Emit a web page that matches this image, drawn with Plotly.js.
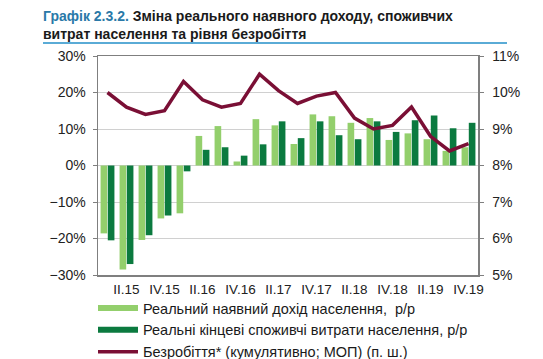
<!DOCTYPE html>
<html><head><meta charset="utf-8">
<script src="https://cdn.plot.ly/plotly-3.0.1.min.js"></script>
<style>html,body{margin:0;padding:0;background:#fff;}</style>
</head><body><div id="chart" style="width:543px;height:359px;"></div>
<script>
const quarters = ["I.15","II.15","III.15","IV.15","I.16","II.16","III.16","IV.16","I.17","II.17","III.17","IV.17","I.18","II.18","III.18","IV.18","I.19","II.19","III.19","IV.19"];
const tickLabels = ["II.15","IV.15","II.16","IV.16","II.17","IV.17","II.18","IV.18","II.19","IV.19"];
const income = [-18.6,-28.5,-20.4,-14.5,-13.1,8.1,10.8,1.1,12.7,11.0,5.9,14.0,13.5,11.7,13.0,7.0,8.8,7.2,4.0,5.0];
const consumption = [-20.5,-27.0,-19.1,-13.7,-1.6,4.3,5.0,2.7,5.8,12.1,7.5,12.1,8.3,7.2,12.1,9.2,12.4,13.7,10.2,11.7];
const unemployment = [10.0,9.6,9.4,9.5,10.3,9.8,9.6,9.7,10.5,10.05,9.7,9.9,10.0,9.3,9.0,9.1,9.6,8.8,8.4,8.6];
const names = ["Реальний наявний дохід населення,  р/р","Реальні кінцеві споживчі витрати населення, р/р","Безробіття* (кумулятивно; МОП) (п. ш.)"];
const cLight = "#93cf6c", cDark = "#0b7a3f", cLine = "#7a0f35";

const traces = [
  {type:"bar", x:quarters, y:income, marker:{color:cLight}, showlegend:false, name:names[0]},
  {type:"bar", x:quarters, y:consumption, marker:{color:cDark}, showlegend:false, name:names[1]},
  {type:"scatter", mode:"lines", x:quarters, y:unemployment, yaxis:"y2", line:{color:cLine, width:3.5}, showlegend:false, name:names[2]},
  {type:"scatter", mode:"lines", x:[null], y:[null], line:{color:cLight, width:6}, name:names[0]},
  {type:"scatter", mode:"lines", x:[null], y:[null], line:{color:cDark, width:6}, name:names[1]},
  {type:"scatter", mode:"lines", x:[null], y:[null], line:{color:cLine, width:3.5}, name:names[2]}
];

const layout = {
  width:543, height:359,
  margin:{l:98, r:65, t:56, b:84, autoexpand:false},
  paper_bgcolor:"#fff", plot_bgcolor:"#fff",
  font:{family:"Liberation Sans, Arial, sans-serif", size:14, color:"#222"},
  title:{text:"<b><span style='color:#2a79a8'>Графік 2.3.2.</span> Зміна реального наявного доходу, споживчих<br>витрат населення та рівня безробіття</b>",
    x:43/543, xanchor:"left", xref:"container", y:1-21/359, yref:"container", yanchor:"top",
    font:{size:14, color:"#1a1a1a"}},
  barmode:"group", bargap:0.24, bargroupgap:0.08,
  xaxis:{type:"category", tickmode:"array", tickvals:tickLabels, ticktext:tickLabels,
    showline:true, linecolor:"#7f7f7f", linewidth:1.5, mirror:true, ticks:"", showgrid:false,
    tickfont:{size:13.5}, ticklabelstandoff:1, fixedrange:true},
  yaxis:{range:[-30,30], dtick:10, ticksuffix:"%", showgrid:true, gridcolor:"#d0d0d0", gridwidth:1,
    zeroline:false, showline:true, linecolor:"#7f7f7f", linewidth:1.5, ticks:"outside", ticklen:4, tickcolor:"#7f7f7f",
    tickfont:{size:14}, ticklabelstandoff:4},
  yaxis2:{range:[5,11], dtick:1, ticksuffix:"%", overlaying:"y", side:"right", showgrid:false, zeroline:false,
    showline:true, linecolor:"#7f7f7f", linewidth:1.5, ticks:"outside", ticklen:4, tickcolor:"#7f7f7f",
    tickfont:{size:14}, ticklabelstandoff:6},
  showlegend:true,
  legend:{orientation:"v", x:(93-98)/380, xanchor:"left", y:-(292-275)/219, yanchor:"top",
    font:{size:14.5, color:"#1a1a1a"}, itemwidth:40, tracegroupgap:0, bgcolor:"rgba(0,0,0,0)"},
  shapes:[{type:"line", xref:"paper", yref:"paper", x0:(43-98)/380, x1:(507-98)/380, y0:1+(56-43)/219, y1:1+(56-43)/219,
    line:{color:"#5aabd6", width:2}}]
};
Plotly.newPlot("chart", traces, layout, {displayModeBar:false, staticPlot:true});
</script></body></html>
